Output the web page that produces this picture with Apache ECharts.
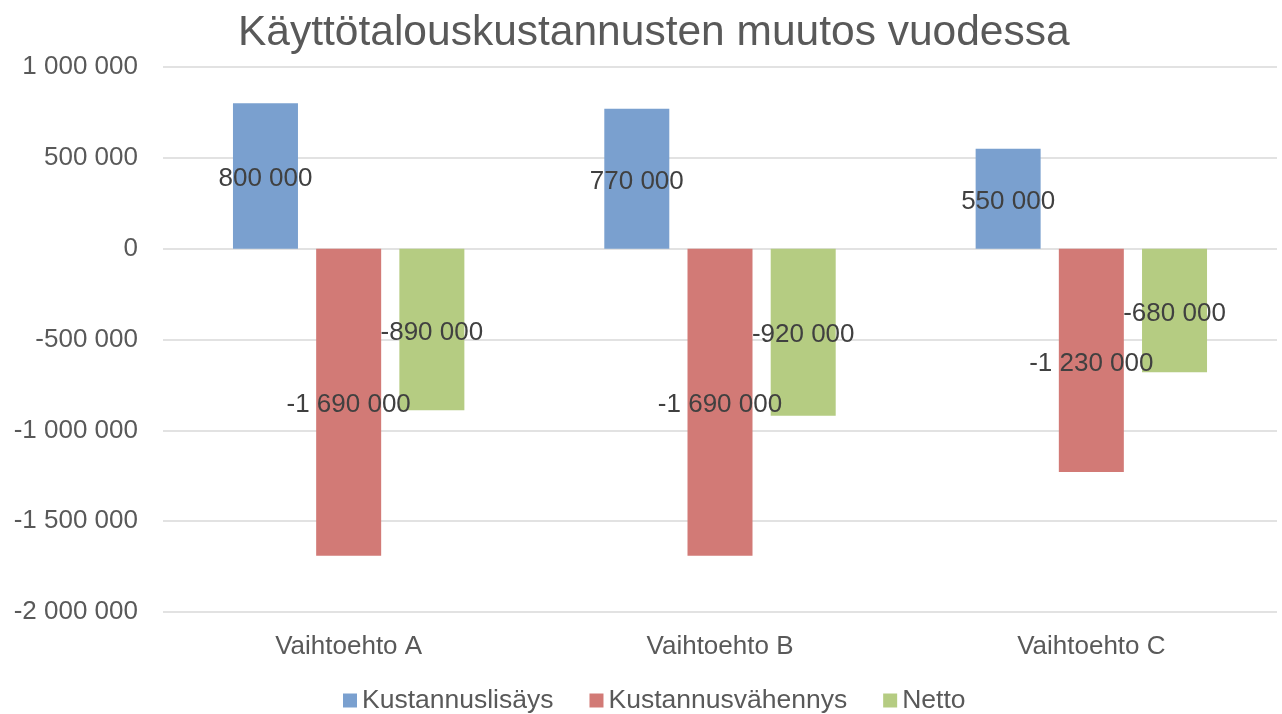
<!DOCTYPE html>
<html>
<head>
<meta charset="utf-8">
<script src="https://cdn.jsdelivr.net/npm/echarts@6/dist/echarts.min.js"></script>
<style>
  html, body { margin: 0; padding: 0; background: #fff; }
  #chart { width: 1282px; height: 714px; }
</style>
</head>
<body>
<div id="chart"></div>
<script>
let chart = echarts.init(document.getElementById('chart'));

const categories = ['Vaihtoehto A', 'Vaihtoehto B', 'Vaihtoehto C'];
const seriesNames = ['Kustannuslisäys', 'Kustannusvähennys', 'Netto'];
const lisays = [800000, 770000, 550000];
const vahennys = [-1690000, -1690000, -1230000];
const netto = [-890000, -920000, -680000];
const colors = ['#7aa0cf', '#d27a76', '#b5cc82'];

// 1 000 000 -muotoilu välilyönneillä
function fmt(v) {
  let s = String(Math.abs(v)).replace(/\B(?=(\d{3})+(?!\d))/g, ' ');
  return (v < 0 ? '-' : '') + s;
}

const fontFamily = 'Liberation Sans, Arial, sans-serif';

function makeSeries(name, data, color) {
  return {
    name: name,
    type: 'bar',
    data: data,
    barWidth: 65,
    barGap: '28%',
    itemStyle: { color: color },
    label: {
      show: true,
      position: 'inside',
      offset: [0, 3],
      color: '#404040',
      fontSize: 26,
      fontFamily: fontFamily,
      formatter: function (p) { return fmt(p.value); }
    },
    emphasis: { disabled: true },
    z: 3
  };
}

let option = {
  animation: false,
  title: {
    text: 'Käyttötalouskustannusten muutos vuodessa',
    left: 233,
    top: 7,
    textStyle: { color: '#595959', fontSize: 42.5, fontWeight: 'normal', fontFamily: fontFamily }
  },
  legend: {
    data: seriesNames,
    top: 682,
    left: 338,
    itemWidth: 14,
    itemHeight: 14,
    itemGap: 36,
    icon: 'rect',
    textStyle: { color: '#595959', fontSize: 26.5, fontFamily: fontFamily }
  },
  grid: {
    left: 163,
    right: 5,
    top: 67,
    bottom: 102,
    containLabel: false
  },
  xAxis: {
    type: 'category',
    data: categories,
    axisLine: { show: false },
    axisTick: { show: false },
    axisLabel: { color: '#595959', fontSize: 26, fontFamily: fontFamily, margin: 22 }
  },
  yAxis: {
    type: 'value',
    min: -2000000,
    max: 1000000,
    interval: 500000,
    axisLine: { show: false },
    axisTick: { show: false },
    axisLabel: {
      color: '#595959',
      fontSize: 26,
      fontFamily: fontFamily,
      margin: 25,
      formatter: fmt
    },
    splitLine: { lineStyle: { color: '#d9d9d9', width: 1.5 } }
  },
  series: [
    makeSeries(seriesNames[0], lisays, colors[0]),
    makeSeries(seriesNames[1], vahennys, colors[1]),
    makeSeries(seriesNames[2], netto, colors[2])
  ]
};

chart.setOption(option);
</script>
</body>
</html>
